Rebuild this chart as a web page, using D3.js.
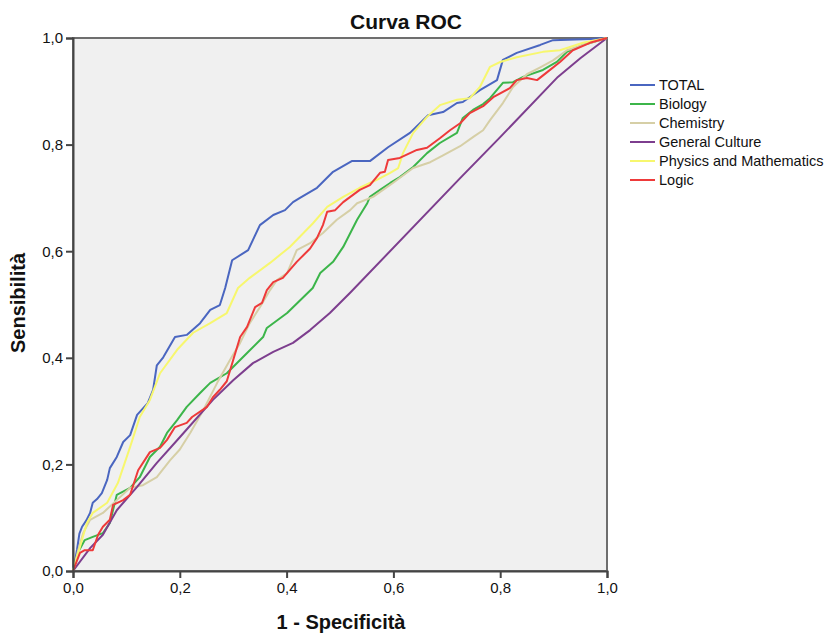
<!DOCTYPE html>
<html lang="it">
    <head>
        <meta charset="utf-8">
        <title>Curva ROC</title>
        <script type="text/javascript" src="https://cdnjs.cloudflare.com/ajax/libs/d3/7.8.5/d3.min.js"></script>
        <style type="text/css">
            body { margin: 0; background: #fff; }
            text { font-family: "Liberation Sans", Arial, sans-serif; fill: #111; }
        </style>
    </head>
    <body>
        <script type="text/javascript">
            // curve points: [1 - specificity, sensitivity]
            var total = [[0,0],[0.004,0.02],[0.0075,0.04],[0.012,0.07],[0.017,0.083],[0.025,0.095],[0.032,0.109],[0.037,0.128],
                [0.045,0.135],[0.054,0.146],[0.064,0.171],[0.069,0.193],[0.082,0.214],[0.094,0.242],[0.107,0.255],[0.12,0.293],
                [0.14,0.315],[0.15,0.34],[0.157,0.386],[0.169,0.401],[0.191,0.439],[0.213,0.443],[0.238,0.465],[0.257,0.49],
                [0.275,0.499],[0.285,0.531],[0.298,0.583],[0.328,0.602],[0.35,0.649],[0.375,0.668],[0.397,0.677],[0.412,0.692],
                [0.425,0.70],[0.457,0.719],[0.487,0.749],[0.522,0.769],[0.556,0.769],[0.59,0.795],[0.631,0.822],[0.665,0.855],
                [0.693,0.861],[0.719,0.878],[0.73,0.88],[0.762,0.902],[0.794,0.921],[0.805,0.959],[0.831,0.972],[0.875,0.987],
                [0.899,0.996],[0.968,0.998],[1,1]];
            var biology = [[0,0],[0.009,0.034],[0.022,0.058],[0.037,0.064],[0.056,0.071],[0.069,0.09],[0.082,0.143],[0.107,0.156],
                [0.125,0.176],[0.144,0.214],[0.163,0.233],[0.176,0.259],[0.195,0.283],[0.213,0.308],[0.238,0.334],[0.257,0.353],
                [0.288,0.371],[0.326,0.409],[0.356,0.439],[0.363,0.456],[0.401,0.484],[0.449,0.531],[0.463,0.559],[0.487,0.58],
                [0.506,0.608],[0.532,0.659],[0.551,0.69],[0.556,0.702],[0.575,0.715],[0.594,0.728],[0.612,0.739],[0.637,0.758],
                [0.663,0.784],[0.687,0.803],[0.719,0.822],[0.73,0.85],[0.749,0.865],[0.768,0.876],[0.781,0.887],[0.805,0.916],
                [0.824,0.917],[0.843,0.927],[0.88,0.94],[0.906,0.955],[0.925,0.974],[0.955,0.987],[1,1]];
            var chemistry = [[0,0],[0.01,0.04],[0.019,0.071],[0.032,0.096],[0.056,0.109],[0.082,0.133],[0.107,0.156],[0.131,0.161],
                [0.157,0.176],[0.182,0.208],[0.2,0.228],[0.22,0.26],[0.243,0.30],[0.27,0.353],[0.294,0.396],[0.313,0.428],
                [0.331,0.465],[0.35,0.495],[0.369,0.527],[0.382,0.546],[0.401,0.559],[0.419,0.602],[0.444,0.615],[0.468,0.634],
                [0.494,0.659],[0.519,0.677],[0.532,0.69],[0.562,0.702],[0.599,0.728],[0.637,0.756],[0.669,0.767],[0.693,0.78],
                [0.725,0.797],[0.749,0.814],[0.768,0.827],[0.781,0.846],[0.805,0.878],[0.824,0.908],[0.85,0.932],[0.875,0.945],
                [0.899,0.958],[0.925,0.977],[0.955,0.987],[1,1]];
            var generalCulture = [[0,0],[0.032,0.043],[0.056,0.068],[0.082,0.114],[0.12,0.158],[0.157,0.203],[0.2,0.251],
                [0.262,0.321],[0.3,0.358],[0.337,0.39],[0.375,0.411],[0.412,0.428],[0.444,0.452],[0.481,0.484],[0.519,0.522],
                [0.725,0.737],[0.8,0.814],[0.908,0.927],[0.95,0.962],[1,1]];
            var physicsMath = [[0,0],[0.013,0.045],[0.026,0.09],[0.037,0.109],[0.064,0.128],[0.084,0.165],[0.107,0.233],
                [0.125,0.289],[0.144,0.321],[0.163,0.371],[0.195,0.415],[0.225,0.447],[0.257,0.465],[0.288,0.484],[0.309,0.531],
                [0.331,0.55],[0.369,0.578],[0.406,0.608],[0.449,0.652],[0.476,0.683],[0.506,0.702],[0.537,0.719],[0.569,0.734],
                [0.594,0.747],[0.609,0.756],[0.618,0.784],[0.637,0.822],[0.663,0.852],[0.687,0.874],[0.719,0.884],[0.743,0.887],
                [0.762,0.908],[0.781,0.946],[0.8,0.955],[0.831,0.964],[0.88,0.974],[0.912,0.977],[0.955,0.991],[1,1]];
            var logic = [[0,0],[0.013,0.034],[0.022,0.039],[0.037,0.039],[0.047,0.068],[0.056,0.083],[0.069,0.096],[0.075,0.124],
                [0.094,0.133],[0.107,0.143],[0.122,0.189],[0.144,0.223],[0.163,0.231],[0.176,0.246],[0.191,0.27],[0.213,0.278],
                [0.223,0.289],[0.251,0.308],[0.262,0.326],[0.275,0.34],[0.288,0.356],[0.3,0.396],[0.313,0.439],[0.326,0.458],
                [0.341,0.495],[0.354,0.503],[0.363,0.527],[0.375,0.542],[0.393,0.55],[0.419,0.58],[0.444,0.605],[0.457,0.625],
                [0.468,0.649],[0.476,0.674],[0.491,0.677],[0.506,0.692],[0.537,0.715],[0.556,0.724],[0.575,0.747],[0.584,0.749],
                [0.59,0.771],[0.612,0.775],[0.644,0.79],[0.663,0.794],[0.687,0.812],[0.706,0.827],[0.725,0.84],[0.743,0.859],
                [0.768,0.872],[0.787,0.889],[0.818,0.906],[0.831,0.921],[0.85,0.925],[0.869,0.921],[0.888,0.936],[0.912,0.955],
                [0.936,0.977],[0.968,0.991],[1,1]];

            var seriesNames = ["TOTAL", "Biology", "Chemistry", "General Culture", "Physics and Mathematics", "Logic"];
            var seriesData = [total, biology, chemistry, generalCulture, physicsMath, logic];
            var seriesColors = ["#4a66c0", "#3cb54a", "#d6cfa6", "#7d3e8e", "#f7f76e", "#ee3a3a"];
            var ticks = [0, 0.2, 0.4, 0.6, 0.8, 1.0];

            var w = 831;
            var h = 637;
            var plotLeft = 73, plotRight = 607, plotTop = 38, plotBottom = 571;

            var svg = d3.select("body")
                        .append("svg")
                        .attr("width", w)
                        .attr("height", h);

            var x = d3.scaleLinear().domain([0, 1]).range([plotLeft, plotRight]);
            var y = d3.scaleLinear().domain([0, 1]).range([plotBottom, plotTop]);
            var fmt = function (d) { return d3.format(".1f")(d).replace(".", ","); };

            svg.append("rect")
               .attr("x", plotLeft)
               .attr("y", plotTop)
               .attr("width", plotRight - plotLeft)
               .attr("height", plotBottom - plotTop)
               .attr("fill", "#f0f0f0")
               .attr("stroke", "#6e6e6e")
               .attr("stroke-width", 2);

            var line = d3.line()
                         .x(function (d) { return x(d[0]); })
                         .y(function (d) { return y(d[1]); });

            svg.append("g")
               .selectAll("path")
               .data(seriesData)
               .enter()
               .append("path")
               .attr("d", line)
               .attr("fill", "none")
               .attr("stroke", function (d, i) { return seriesColors[i]; })
               .attr("stroke-width", 2)
               .attr("stroke-linejoin", "round");

            var xAxis = svg.append("g")
                           .attr("transform", "translate(0," + plotBottom + ")")
                           .call(d3.axisBottom(x).tickValues(ticks).tickFormat(fmt).tickSize(7).tickPadding(4));
            var yAxis = svg.append("g")
                           .attr("transform", "translate(" + plotLeft + ",0)")
                           .call(d3.axisLeft(y).tickValues(ticks).tickFormat(fmt).tickSize(7).tickPadding(3));

            [xAxis, yAxis].forEach(function (a) {
                a.select(".domain").attr("stroke", "#444").attr("stroke-width", 2);
                a.selectAll(".tick line").attr("stroke", "#444").attr("stroke-width", 2);
                a.selectAll(".tick text")
                 .style("font-family", "'Liberation Sans', Arial, sans-serif")
                 .style("font-size", "15px")
                 .attr("fill", "#222");
            });

            svg.append("text")
               .attr("x", 406)
               .attr("y", 29)
               .attr("text-anchor", "middle")
               .style("font-size", "21px")
               .style("font-weight", "bold")
               .text("Curva ROC");

            svg.append("text")
               .attr("x", 341)
               .attr("y", 629)
               .attr("text-anchor", "middle")
               .style("font-size", "20px")
               .style("font-weight", "bold")
               .text("1 - Specificità");

            svg.append("text")
               .attr("transform", "translate(25,303) rotate(-90)")
               .attr("text-anchor", "middle")
               .style("font-size", "20px")
               .style("font-weight", "bold")
               .text("Sensibilità");

            var legend = svg.append("g")
                            .selectAll("g")
                            .data(seriesNames)
                            .enter()
                            .append("g")
                            .attr("transform", function (d, i) { return "translate(630," + (85 + i * 19) + ")"; });

            legend.append("line")
                  .attr("x1", 0)
                  .attr("x2", 25)
                  .attr("stroke", function (d, i) { return seriesColors[i]; })
                  .attr("stroke-width", 2);

            legend.append("text")
                  .attr("x", 29)
                  .attr("y", 5)
                  .style("font-size", "14.5px")
                  .text(function (d) { return d; });
        </script>
    </body>
</html>
